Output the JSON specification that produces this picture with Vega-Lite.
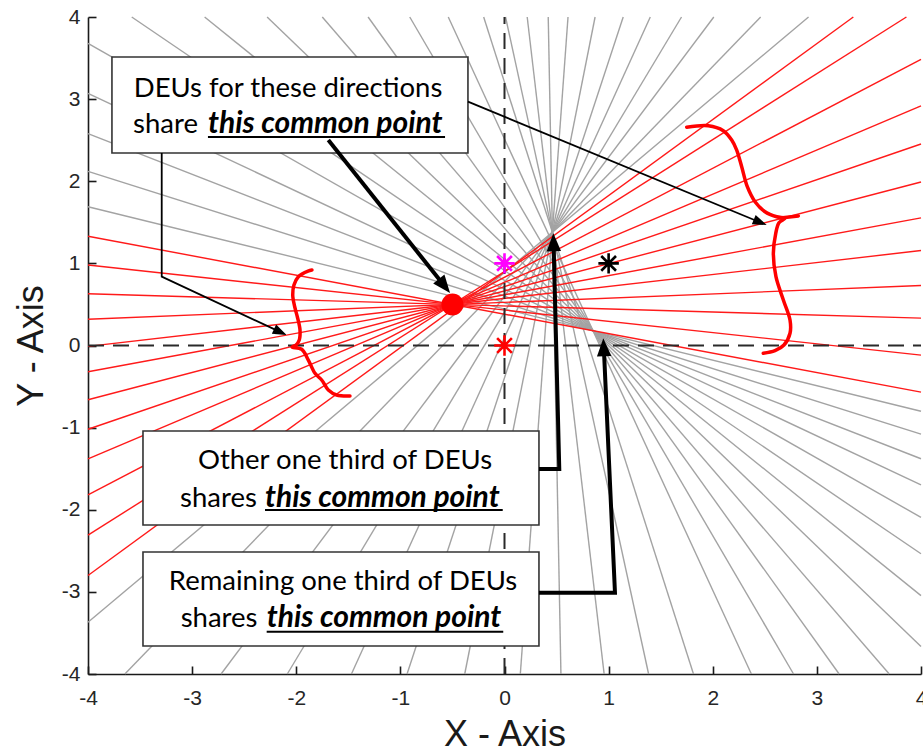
{
  "$schema": "https://vega.github.io/schema/vega-lite/v6.json",
  "width": 833,
  "height": 657,
  "autosize": {"type": "none"},
  "padding": {"left": 88, "top": 17, "right": 2, "bottom": 77},
  "background": "white",
  "config": {"view": {"stroke": null}},
  "datasets": {
    "lines": [
      {"x": -0.20, "y": 4, "x2": 1.815, "y2": -4, "c": "g"},
      {"x": 0.01, "y": 4, "x2": 1.384, "y2": -4, "c": "g"},
      {"x": 0.218, "y": 4, "x2": 0.957, "y2": -4, "c": "g"},
      {"x": 0.42, "y": 4, "x2": 0.542, "y2": -4, "c": "g"},
      {"x": 0.61, "y": 4, "x2": 0.152, "y2": -4, "c": "g"},
      {"x": 0.87, "y": 4, "x2": -0.382, "y2": -4, "c": "g"},
      {"x": 1.14, "y": 4, "x2": -0.936, "y2": -4, "c": "g"},
      {"x": 1.40, "y": 4, "x2": -1.470, "y2": -4, "c": "g"},
      {"x": 1.70, "y": 4, "x2": -2.086, "y2": -4, "c": "g"},
      {"x": 2.01, "y": 4, "x2": -2.722, "y2": -4, "c": "g"},
      {"x": 2.46, "y": 4, "x2": -3.646, "y2": -4, "c": "g"},
      {"x": 2.92, "y": 4, "x2": -4, "y2": -3.370, "c": "g"},
      {"x": -4, "y": 3.68, "x2": 4, "y2": -2.093, "c": "g"},
      {"x": -4, "y": 3.07, "x2": 4, "y2": -1.697, "c": "g"},
      {"x": -4, "y": 2.58, "x2": 4, "y2": -1.379, "c": "g"},
      {"x": -4, "y": 2.12, "x2": 4, "y2": -1.08, "c": "g"},
      {"x": -4, "y": 1.69, "x2": 4, "y2": -0.801, "c": "g"},
      {"x": -3.58, "y": 4, "x2": 4, "y2": -2.536, "c": "g"},
      {"x": -2.88, "y": 4, "x2": 4, "y2": -3.046, "c": "g"},
      {"x": -2.28, "y": 4, "x2": 4, "y2": -3.664, "c": "g"},
      {"x": -1.75, "y": 4, "x2": 3.695, "y2": -4, "c": "g"},
      {"x": -1.31, "y": 4, "x2": 3.214, "y2": -4, "c": "g"},
      {"x": -0.91, "y": 4, "x2": 2.776, "y2": -4, "c": "g"},
      {"x": -0.54, "y": 4, "x2": 2.371, "y2": -4, "c": "g"},
      {"x": -4, "y": 1.33, "x2": 4, "y2": -0.567, "c": "r"},
      {"x": -4, "y": 0.98, "x2": 4, "y2": -0.117, "c": "r"},
      {"x": -4, "y": 0.63, "x2": 4, "y2": 0.333, "c": "r"},
      {"x": -4, "y": 0.32, "x2": 4, "y2": 0.731, "c": "r"},
      {"x": -4, "y": -0.01, "x2": 4, "y2": 1.156, "c": "r"},
      {"x": -4, "y": -0.32, "x2": 4, "y2": 1.554, "c": "r"},
      {"x": -4, "y": -0.66, "x2": 4, "y2": 1.991, "c": "r"},
      {"x": -4, "y": -1.02, "x2": 4, "y2": 2.454, "c": "r"},
      {"x": -4, "y": -1.38, "x2": 4, "y2": 2.917, "c": "r"},
      {"x": -4, "y": -1.82, "x2": 4, "y2": 3.483, "c": "r"},
      {"x": -4, "y": -2.31, "x2": 3.86, "y2": 4, "c": "r"},
      {"x": -4, "y": -2.80, "x2": 3.35, "y2": 4, "c": "r"}
    ],
    "zeroLines": [
      {"x": 0, "y": -4, "x2": 0, "y2": 4},
      {"x": -4, "y": 0, "x2": 4, "y2": 0}
    ],
    "braces": [
      {"b": "L", "o": 0, "x": -1.849, "y": 0.919},
      {"b": "L", "o": 1, "x": -1.887, "y": 0.907},
      {"b": "L", "o": 2, "x": -1.980, "y": 0.838},
      {"b": "L", "o": 3, "x": -2.022, "y": 0.737},
      {"b": "L", "o": 4, "x": -2.034, "y": 0.615},
      {"b": "L", "o": 5, "x": -2.015, "y": 0.472},
      {"b": "L", "o": 6, "x": -1.986, "y": 0.331},
      {"b": "L", "o": 7, "x": -1.964, "y": 0.189},
      {"b": "L", "o": 8, "x": -1.971, "y": 0.067},
      {"b": "L", "o": 9, "x": -2.002, "y": 0.006},
      {"b": "L", "o": 10, "x": -2.041, "y": -0.018},
      {"b": "L", "o": 11, "x": -1.948, "y": -0.046},
      {"b": "L", "o": 12, "x": -1.884, "y": -0.177},
      {"b": "L", "o": 13, "x": -1.820, "y": -0.339},
      {"b": "L", "o": 14, "x": -1.756, "y": -0.420},
      {"b": "L", "o": 15, "x": -1.692, "y": -0.542},
      {"b": "L", "o": 16, "x": -1.612, "y": -0.603},
      {"b": "L", "o": 17, "x": -1.484, "y": -0.615},
      {"b": "R", "o": 0, "x": 1.750, "y": 2.657},
      {"b": "R", "o": 1, "x": 1.957, "y": 2.676},
      {"b": "R", "o": 2, "x": 2.101, "y": 2.616},
      {"b": "R", "o": 3, "x": 2.182, "y": 2.502},
      {"b": "R", "o": 4, "x": 2.230, "y": 2.380},
      {"b": "R", "o": 5, "x": 2.278, "y": 2.177},
      {"b": "R", "o": 6, "x": 2.332, "y": 1.934},
      {"b": "R", "o": 7, "x": 2.406, "y": 1.751},
      {"b": "R", "o": 8, "x": 2.502, "y": 1.629},
      {"b": "R", "o": 9, "x": 2.614, "y": 1.568},
      {"b": "R", "o": 10, "x": 2.694, "y": 1.549},
      {"b": "R", "o": 11, "x": 2.636, "y": 1.495},
      {"b": "R", "o": 12, "x": 2.605, "y": 1.366},
      {"b": "R", "o": 13, "x": 2.582, "y": 1.123},
      {"b": "R", "o": 14, "x": 2.607, "y": 0.838},
      {"b": "R", "o": 15, "x": 2.678, "y": 0.554},
      {"b": "R", "o": 16, "x": 2.742, "y": 0.310},
      {"b": "R", "o": 17, "x": 2.742, "y": 0.149},
      {"b": "R", "o": 18, "x": 2.684, "y": 0.006},
      {"b": "R", "o": 19, "x": 2.598, "y": -0.063},
      {"b": "R", "o": 20, "x": 2.485, "y": -0.095},
      {"b": "S", "o": 0, "x": 2.650, "y": 1.552},
      {"b": "S", "o": 1, "x": 2.822, "y": 1.577}
    ],
    "stars": [
      {"x": 0, "y": 1, "c": "#ff00ff"},
      {"x": 0, "y": 0, "c": "#ff0000"},
      {"x": 1, "y": 1, "c": "#000000"}
    ],
    "dot": [{"x": -0.5, "y": 0.5}],
    "boxes": [
      {"x": -3.770, "x2": -0.351, "y": 3.513, "y2": 2.344},
      {"x": -3.472, "x2": 0.331, "y": -1.041, "y2": -2.186},
      {"x": -3.472, "x2": 0.331, "y": -2.515, "y2": -3.659}
    ],
    "thickArrows": [
      {"a": "a1", "o": 0, "x": -1.692, "y": 2.503},
      {"a": "a1", "o": 1, "x": -0.58, "y": 0.73},
      {"a": "a4", "o": 0, "x": 0.331, "y": -1.504},
      {"a": "a4", "o": 1, "x": 0.526, "y": -1.504},
      {"a": "a4", "o": 2, "x": 0.472, "y": 1.220},
      {"a": "a5", "o": 0, "x": 0.331, "y": -3.010},
      {"a": "a5", "o": 1, "x": 1.061, "y": -3.010},
      {"a": "a5", "o": 2, "x": 0.955, "y": -0.058}
    ],
    "thinArrows": [
      {"a": "a2", "o": 0, "x": -3.292, "y": 2.344},
      {"a": "a2", "o": 1, "x": -3.292, "y": 0.838},
      {"a": "a2", "o": 2, "x": -2.161, "y": 0.169},
      {"a": "a3", "o": 0, "x": -0.351, "y": 2.969},
      {"a": "a3", "o": 1, "x": 2.447, "y": 1.504}
    ],
    "headsThick": [
      {"x": -0.523, "y": 0.639, "ang": 141.4},
      {"x": 0.469, "y": 1.366, "ang": -1.5},
      {"x": 0.949, "y": 0.088, "ang": -2.6}
    ],
    "headsThin": [
      {"x": -2.092, "y": 0.128, "ang": 115.0},
      {"x": 2.518, "y": 1.467, "ang": 112.4}
    ],
    "centerText": [
      {"x": -2.079, "y": 3.03, "t": "DEUs for these directions"},
      {"x": -1.532, "y": -1.504, "t": "Other one third of DEUs"},
      {"x": -1.551, "y": -2.977, "t": "Remaining one third of DEUs"}
    ],
    "leftText": [
      {"x": -3.567, "y": 2.588, "t": "share"},
      {"x": -3.116, "y": -1.963, "t": "shares"},
      {"x": -3.110, "y": -3.428, "t": "shares"}
    ],
    "boldText": [
      {"x": -2.848, "y": 2.588, "t": "this common point"},
      {"x": -2.300, "y": -1.963, "t": "this common point"},
      {"x": -2.284, "y": -3.428, "t": "this common point"}
    ],
    "underlines": [
      {"x": -2.848, "x2": -0.571, "y": 2.539},
      {"x": -2.300, "x2": -0.017, "y": -2.003},
      {"x": -2.284, "x2": -0.012, "y": -3.485}
    ]
  },
  "encoding": {
    "x": {
      "field": "x", "type": "quantitative",
      "scale": {"domain": [-4, 4], "nice": false, "zero": false},
      "axis": {
        "values": [-4, -3, -2, -1, 0, 1, 2, 3, 4],
        "labelExpr": "datum.value < 0 ? '-' + abs(datum.value) : '' + datum.value",
        "title": "X - Axis", "grid": false,
        "domainColor": "#1a1a1a", "domainWidth": 1.6,
        "tickColor": "#1a1a1a", "tickWidth": 1.6, "tickSize": -8,
        "labelFont": "Liberation Sans", "labelFontSize": 21, "labelColor": "#262626",
        "labelPadding": 21, "labelFlush": false, "labelOverlap": false,
        "titleFont": "Liberation Sans", "titleFontSize": 36, "titleFontWeight": "normal",
        "titleColor": "#1a1a1a", "titleBaseline": "alphabetic", "titleY": 71
      }
    },
    "y": {
      "field": "y", "type": "quantitative",
      "scale": {"domain": [-4, 4], "nice": false, "zero": false},
      "axis": {
        "values": [-4, -3, -2, -1, 0, 1, 2, 3, 4],
        "labelExpr": "datum.value < 0 ? '-' + abs(datum.value) : '' + datum.value",
        "title": "Y - Axis", "grid": false,
        "domainColor": "#1a1a1a", "domainWidth": 1.6,
        "tickColor": "#1a1a1a", "tickWidth": 1.6, "tickSize": -8,
        "labelFont": "Liberation Sans", "labelFontSize": 21, "labelColor": "#262626",
        "labelPadding": 16, "labelFlush": false, "labelOverlap": false,
        "titleFont": "Liberation Sans", "titleFontSize": 36, "titleFontWeight": "normal",
        "titleColor": "#1a1a1a", "titleBaseline": "alphabetic", "titleX": -46
      }
    }
  },
  "layer": [
    {
      "data": {"name": "lines"},
      "mark": {"type": "rule", "strokeWidth": 1.4},
      "encoding": {
        "x2": {"field": "x2"},
        "y2": {"field": "y2"},
        "color": {"field": "c", "type": "nominal", "scale": {"domain": ["g", "r"], "range": ["#a3a3a3", "#ff1a1a"]}, "legend": null}
      }
    },
    {
      "data": {"name": "zeroLines"},
      "mark": {"type": "rule", "color": "#2a2a2a", "strokeWidth": 2, "strokeDash": [16, 9]},
      "encoding": {
        "x2": {"field": "x2"},
        "y2": {"field": "y2"}
      }
    },
    {
      "data": {"name": "braces"},
      "mark": {"type": "line", "color": "#ff0000", "strokeWidth": 3.5, "interpolate": "catmull-rom", "strokeCap": "round"},
      "encoding": {
        "detail": {"field": "b"},
        "order": {"field": "o"}
      }
    },
    {
      "data": {"name": "dot"},
      "mark": {"type": "point", "shape": "circle", "filled": true, "color": "#ff0000", "size": 484, "opacity": 1},
      "encoding": {}
    },
    {
      "data": {"name": "stars"},
      "mark": {"type": "point", "shape": "M-1,0L1,0M0,-1L0,1M-0.72,-0.72L0.72,0.72M-0.72,0.72L0.72,-0.72", "filled": false, "size": 420, "strokeWidth": 2.6, "opacity": 1},
      "encoding": {
        "color": {"field": "c", "type": "nominal", "scale": null}
      }
    },
    {
      "data": {"name": "boxes"},
      "mark": {"type": "rect", "fill": "white", "stroke": "#333333", "strokeWidth": 1.6},
      "encoding": {
        "x2": {"field": "x2"},
        "y2": {"field": "y2"}
      }
    },
    {
      "data": {"name": "thickArrows"},
      "mark": {"type": "line", "color": "#000000", "strokeWidth": 4},
      "encoding": {
        "detail": {"field": "a"},
        "order": {"field": "o"}
      }
    },
    {
      "data": {"name": "thinArrows"},
      "mark": {"type": "line", "color": "#000000", "strokeWidth": 1.8},
      "encoding": {
        "detail": {"field": "a"},
        "order": {"field": "o"}
      }
    },
    {
      "data": {"name": "headsThick"},
      "mark": {"type": "point", "shape": "M0,0L-0.4,1L0.4,1Z", "filled": true, "color": "#000000", "size": 1296, "opacity": 1},
      "encoding": {
        "angle": {"field": "ang", "type": "quantitative", "scale": null}
      }
    },
    {
      "data": {"name": "headsThin"},
      "mark": {"type": "point", "shape": "M0,0L-0.36,1L0.36,1Z", "filled": true, "color": "#000000", "size": 784, "opacity": 1},
      "encoding": {
        "angle": {"field": "ang", "type": "quantitative", "scale": null}
      }
    },
    {
      "data": {"name": "centerText"},
      "mark": {"type": "text", "font": "Lato", "fontSize": 27.5, "color": "#000000", "align": "center", "baseline": "alphabetic"},
      "encoding": {
        "text": {"field": "t"}
      }
    },
    {
      "data": {"name": "leftText"},
      "mark": {"type": "text", "font": "Lato", "fontSize": 27.5, "color": "#000000", "align": "left", "baseline": "alphabetic"},
      "encoding": {
        "text": {"field": "t"}
      }
    },
    {
      "data": {"name": "boldText"},
      "mark": {"type": "text", "font": "Lato", "fontSize": 30, "fontWeight": "bold", "fontStyle": "italic", "color": "#000000", "align": "left", "baseline": "alphabetic"},
      "encoding": {
        "text": {"field": "t"}
      }
    },
    {
      "data": {"name": "underlines"},
      "mark": {"type": "rule", "color": "#000000", "strokeWidth": 2},
      "encoding": {
        "x2": {"field": "x2"}
      }
    }
  ]
}
